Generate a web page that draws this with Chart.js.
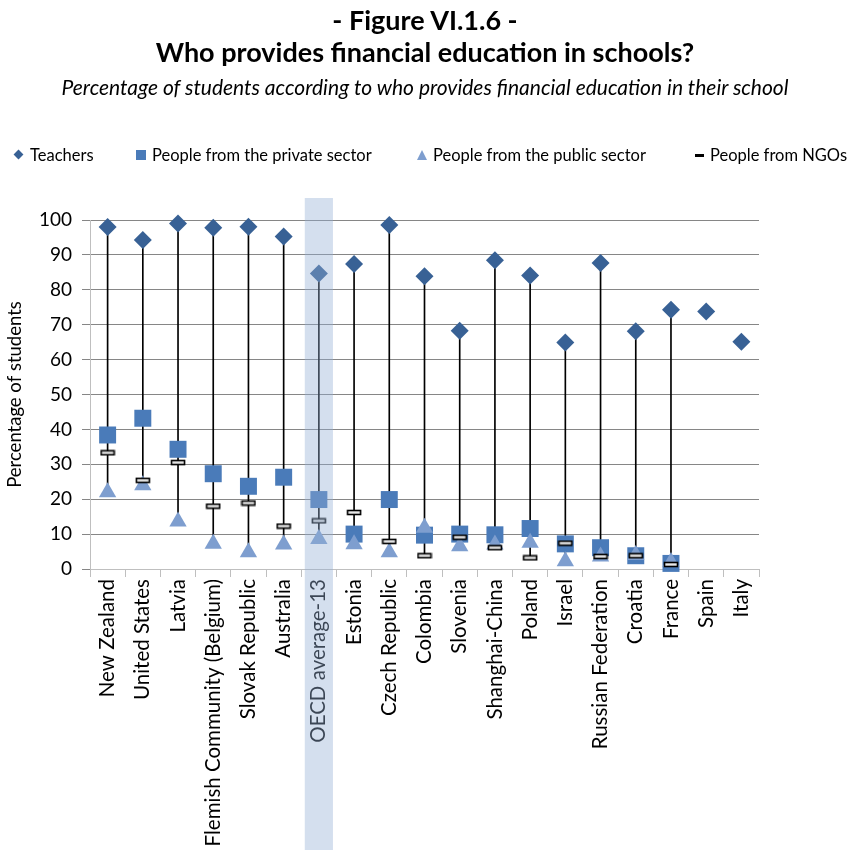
<!DOCTYPE html>
<html lang="en">
<head>
<meta charset="UTF-8">
<title>Who provides financial education in schools?</title>
<script src="https://cdn.jsdelivr.net/npm/chart.js"></script>
<style>
    html, body { margin: 0; padding: 0; background: #fff; }
    #wrap { position: relative; width: 850px; height: 850px; font-family: Lato, "Open Sans", sans-serif; color: #000; }
    #chart { position: absolute; left: 0; top: 0; }
    .title { position: absolute; left: 0; width: 850px; text-align: center; font-weight: bold; font-size: 27px; line-height: 32px; }
    .subtitle { position: absolute; left: 0; top: 75px; width: 850px; text-align: center; font-style: italic; font-size: 21px; line-height: 24px; }
    .legend-item { position: absolute; top: 145px; font-size: 16.5px; line-height: 20px; white-space: nowrap; }
    .mk { position: absolute; }
    .mk.diamond { width: 7px; height: 7px; transform: rotate(45deg); left: -15px; top: 6px; }
    .mk.square { width: 10px; height: 10px; left: -16px; top: 5px; }
    .mk.triangle { width: 0; height: 0; border-left: 5px solid transparent; border-right: 5px solid transparent; left: -16px; top: 5px; }
    .mk.dash { width: 9px; height: 3px; left: -15px; top: 9px; background: #000; }
</style>
</head>
<body>
<div id="wrap">
    <canvas id="chart" width="850" height="850"></canvas>
    <div class="title" style="top:4px">- Figure VI.1.6 -</div>
    <div class="title" style="top:36px">Who provides financial education in schools?</div>
    <div class="subtitle">Percentage of students according to who provides financial education in their school</div>
    <div class="legend-item" style="left:30px"><span class="mk diamond" id="lgTeachers"></span>Teachers</div>
    <div class="legend-item" style="left:152px"><span class="mk square" id="lgPrivate"></span>People from the private sector</div>
    <div class="legend-item" style="left:433px"><span class="mk triangle" id="lgPublic"></span>People from the public sector</div>
    <div class="legend-item" style="left:710px"><span class="mk dash"></span>People from NGOs</div>
</div>
<script>
    // dane
    const countries = ['New Zealand', 'United States', 'Latvia', 'Flemish Community (Belgium)', 'Slovak Republic',
        'Australia', 'OECD average-13', 'Estonia', 'Czech Republic', 'Colombia', 'Slovenia', 'Shanghai-China',
        'Poland', 'Israel', 'Russian Federation', 'Croatia', 'France', 'Spain', 'Italy'];
    const teachers      = [98.0, 94.3, 99.0, 97.8, 98.1, 95.3, 84.7, 87.4, 98.6, 83.9, 68.3, 88.5, 84.1, 64.9, 87.7, 68.1, 74.3, 73.8, 65.1];
    const privateSector = [38.4, 43.2, 34.3, 27.3, 23.7, 26.3, 19.9, 10.0, 19.9, 9.7, 10.0, 9.8, 11.6, 7.2, 6.1, 3.8, 1.6, null, null];
    const publicSector  = [22.0, 24.0, 13.6, 7.2, 4.8, 7.0, 8.6, 7.1, 4.8, 11.8, 6.5, 7.0, 7.5, 2.2, 3.6, 4.0, 2.0, null, null];
    const ngos          = [33.3, 25.4, 30.5, 18.0, 18.9, 12.3, 13.8, 16.2, 7.9, 3.8, 9.1, 6.1, 3.2, 7.4, 3.6, 3.8, 1.3, null, null];
    const yTicks = [0, 10, 20, 30, 40, 50, 60, 70, 80, 90, 100];
    const highlighted = 'OECD average-13';

    const colTeachers = '#386195';
    const colPrivate = '#4a7bb9';
    const colPublic = '#7e9ecf';

    document.getElementById('lgTeachers').style.background = colTeachers;
    document.getElementById('lgPrivate').style.background = colPrivate;
    document.getElementById('lgPublic').style.borderBottom = '10px solid ' + colPublic;

    // pionowa linia od minimum do maksimum w kazdym kraju
    const ranges = countries.map((c, i) => {
        const vals = [teachers[i], privateSector[i], publicSector[i], ngos[i]].filter(v => v != null);
        return vals.length > 1 ? [Math.min(...vals), Math.max(...vals)] : null;
    });

    function ngoMarker() {
        const c = document.createElement('canvas');
        c.width = 16; c.height = 7;
        const g = c.getContext('2d');
        g.fillStyle = '#e8e8e8';
        g.fillRect(1, 1, 14, 5);
        g.strokeStyle = '#000';
        g.lineWidth = 1.6;
        g.strokeRect(1.5, 1.5, 13, 4);
        return c;
    }

    // pasek podswietlajacy srednia OECD
    const bandPlugin = {
        id: 'oecdBand',
        afterDraw(chart) {
            const x = chart.scales.x;
            const i = countries.indexOf(highlighted);
            const cx = x.getPixelForValue(i);
            const w = x.width / countries.length * 0.8;
            const ctx = chart.ctx;
            ctx.save();
            ctx.fillStyle = 'rgba(148,175,213,0.4)';
            ctx.fillRect(cx - w / 2, chart.chartArea.top - 22, w, chart.height);
            ctx.restore();
        }
    };

    const pointSet = (label, data, style, radius, color, order) => ({
        type: 'line',
        label: label,
        data: data,
        showLine: false,
        pointStyle: style,
        pointRadius: radius,
        pointHoverRadius: radius,
        backgroundColor: color,
        borderColor: color,
        pointBorderWidth: 0,
        clip: false,
        order: order
    });

    new Chart(document.getElementById('chart'), {
        type: 'bar',
        data: {
            labels: countries,
            datasets: [
                pointSet('Teachers', teachers, 'rectRot', 9, colTeachers, 4),
                pointSet('People from the private sector', privateSector, 'rect', 12, colPrivate, 3),
                pointSet('People from the public sector', publicSector, 'triangle', 10, colPublic, 2),
                pointSet('People from NGOs', ngos, ngoMarker(), 8, '#000', 1),
                {
                    type: 'bar',
                    label: 'range',
                    data: ranges,
                    backgroundColor: '#000',
                    barThickness: 1,
                    order: 10
                }
            ]
        },
        options: {
            responsive: false,
            animation: false,
            layout: { padding: { top: 220, right: 91, bottom: 0, left: 0 } },
            plugins: {
                legend: { display: false },
                tooltip: { enabled: false }
            },
            scales: {
                x: {
                    offset: true,
                    grid: { offset: true, drawOnChartArea: false, tickLength: 8, color: '#bfbfbf' },
                    border: { color: '#bfbfbf' },
                    ticks: {
                        autoSkip: false, minRotation: 90, maxRotation: 90, padding: 2,
                        color: '#000', font: { family: 'Lato', size: 20.5 }
                    },
                    afterFit: s => { s.height = 281; }
                },
                y: {
                    min: 0,
                    max: 100,
                    afterBuildTicks: s => { s.ticks = yTicks.map(v => ({ value: v })); },
                    grid: { color: '#868686', tickLength: 8 },
                    border: { color: '#bfbfbf' },
                    ticks: { color: '#000', padding: 10, font: { family: 'Lato', size: 19 } },
                    title: {
                        display: true, text: 'Percentage of students', color: '#000',
                        font: { family: 'Lato', size: 18.5 }, padding: { top: 4, bottom: 0 }
                    },
                    afterFit: s => { s.width = 90; }
                }
            }
        },
        plugins: [bandPlugin]
    });
</script>
</body>
</html>
